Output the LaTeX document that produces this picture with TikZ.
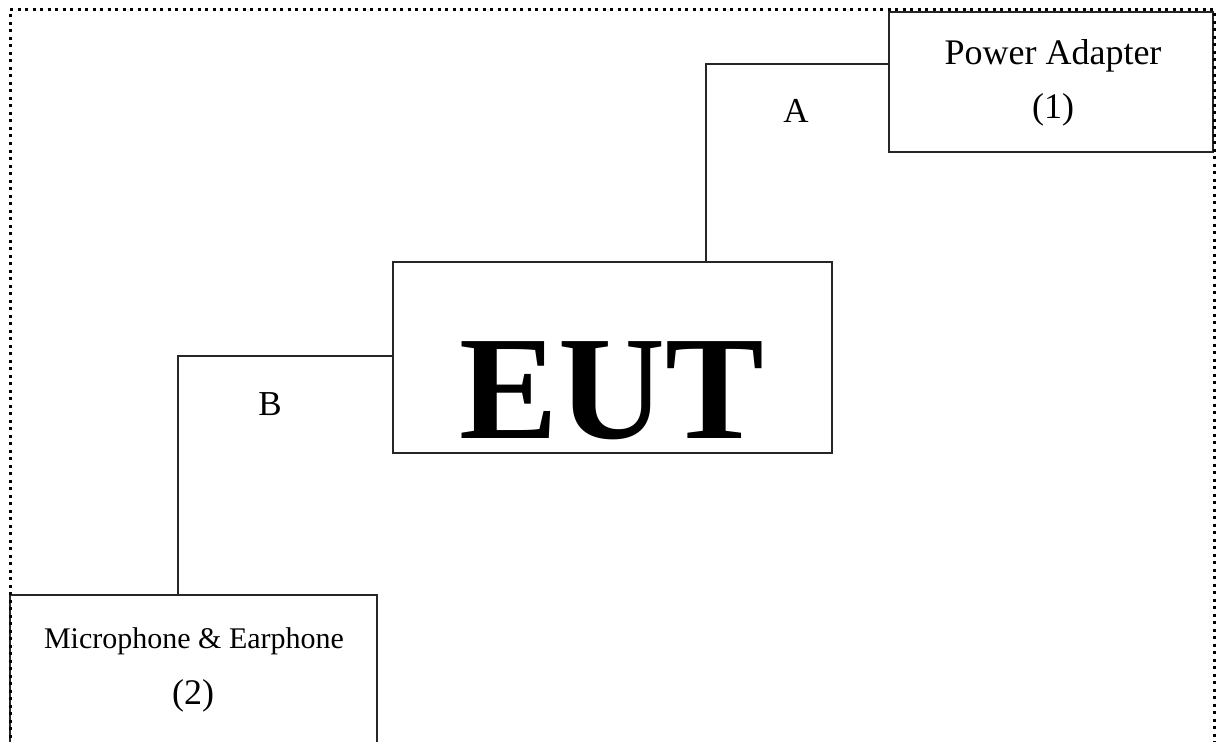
\documentclass[tikz,border=0pt]{standalone}
\usepackage{fontspec}
\setmainfont{Liberation Serif}
\begin{document}
\begin{tikzpicture}[x=1pt,y=-1pt,
  boxst/.style={draw=black!85,line width=1.3pt,rectangle,inner sep=0pt},
  wire/.style={draw=black!85,line width=1.3pt},
  lbl/.style={inner sep=0pt,anchor=base,font=\fontsize{30}{30}\selectfont},
  lblbig/.style={inner sep=0pt,anchor=base,font=\fontsize{36}{36}\selectfont},
  letter/.style={inner sep=0pt,anchor=base,font=\fontsize{35}{35}\selectfont}]
\useasboundingbox (0,0) rectangle (1217,741);
% boxes
\node[boxst,minimum width=324pt,minimum height=140pt] (pa) at (1051,82) {};
\node[boxst,minimum width=439pt,minimum height=191pt] (eut) at (612.5,357.5) {};
\node[boxst,minimum width=367pt,minimum height=160pt] (mic) at (193.5,675) {};
% texts
\node[lblbig] (patxt) at (1053,65) {Power Adapter};
\node[lblbig] (pan) at (1053,119) {(1)};
\node[lbl] (mictxt) at (194,648) {Microphone \& Earphone};
\node[lblbig] (micn) at (193,704) {(2)};
\node[inner sep=0pt,anchor=base,font=\fontsize{148}{148}\selectfont\bfseries] (euttxt) at (612,438) {EUT};
% connectors
\coordinate (ca) at (706,64);
\coordinate (cb) at (178,356);
\draw[wire] (eut.north -| ca) -- (ca) -- (ca -| pa.west);
\draw[wire] (mic.north -| cb) -- (cb) -- (cb -| eut.west);
\node[letter] (la) at (796,123) {A};
\node[letter] (lb) at (270,415) {B};
% dotted frame
\draw[line width=3pt,dash pattern=on 3pt off 4.5pt] (10,760) -- (10,10) -- (1214,10) -- (1214,760);
\end{tikzpicture}
\end{document}
